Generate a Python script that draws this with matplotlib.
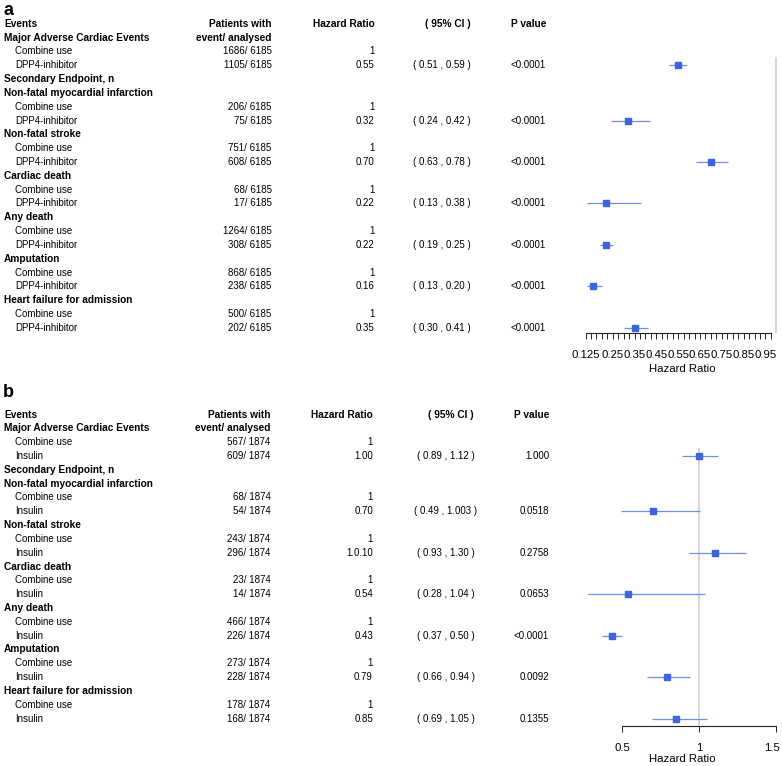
import matplotlib
matplotlib.use("Agg")
import matplotlib.pyplot as plt
from matplotlib.transforms import ScaledTranslation

plt.rcParams['font.family'] = ['Liberation Sans', 'DejaVu Sans']

# ---------------- data ----------------
groups = ["Major Adverse Cardiac Events", "Non-fatal myocardial infarction",
          "Non-fatal stroke", "Cardiac death", "Any death", "Amputation",
          "Heart failure for admission"]
ref_name = "Combine use"

# panel a : DPP4-inhibitor
a_drug = "DPP4-inhibitor"
a_total = 6185
a_ref_n = [1686, 206, 751, 68, 1264, 868, 500]
a_drug_n = [1105, 75, 608, 17, 308, 238, 202]
a_hr = [0.55, 0.32, 0.70, 0.22, 0.22, 0.16, 0.35]
a_lo = [0.51, 0.24, 0.63, 0.13, 0.19, 0.13, 0.30]
a_hi = [0.59, 0.42, 0.78, 0.38, 0.25, 0.20, 0.41]
a_hr_lab = ["0.55", "0.32", "0.70", "0.22", "0.22", "0.16", "0.35"]
a_p = ["<0.0001", "<0.0001", "<0.0001", "<0.0001", "<0.0001", "<0.0001", "<0.0001"]
a_ticks = [0.125, 0.25, 0.35, 0.45, 0.55, 0.65, 0.75, 0.85, 0.95]
a_tick_lab = ["0.125", "0.25", "0.35", "0.45", "0.55", "0.65", "0.75", "0.85", "0.95"]
a_minor = [0.125 + 0.025 * k for k in range(35)]

# panel b : Insulin
b_drug = "Insulin"
b_total = 1874
b_ref_n = [567, 68, 243, 23, 466, 273, 178]
b_drug_n = [609, 54, 296, 14, 226, 228, 168]
b_hr = [1.00, 0.70, 1.10, 0.54, 0.43, 0.79, 0.85]
b_lo = [0.89, 0.49, 0.93, 0.28, 0.37, 0.66, 0.69]
b_hi = [1.12, 1.003, 1.30, 1.04, 0.50, 0.94, 1.05]
b_hr_lab = ["1.00", "0.70", "1.0.10", "0.54", "0.43", "0.79", "0.85"]
b_p = ["1.000", "0.0518", "0.2758", "0.0653", "<0.0001", "0.0092", "0.1355"]
b_ticks = [0.5, 1, 1.5]
b_tick_lab = ["0.5", "1", "1.5"]

W, H = 782, 766
SQ = '#3d64db'
LN = '#6f8ee6'
FS = 7.0
FSB = 7.3
STEP = 13.82


def fmt(v):
    return "%.2f" % v if round(v, 2) == v else str(v)


fig = plt.figure(figsize=(W / 100, H / 100), dpi=100)
axt = fig.add_axes([0, 0, 1, 1])
axt.set_xlim(0, W)
axt.set_ylim(H, 0)
axt.axis('off')


def panel(letter, letter_y, y0, ax_top, ax_bot, drug, total, ref_n, drug_n,
          hr, lo, hi, hr_lab, pv, cols, xlim, bounds, ticks, tick_lab, minor, lab_off):
    x_n, x_hr, x_ci, x_cih, x_p = cols
    axt.text(3, letter_y, letter, fontsize=13, fontweight='bold', va='baseline')

    def ry(r):
        return y0 + STEP * r

    b = dict(fontsize=FSB, fontweight='bold', va='center')
    axt.text(4, ry(0), "Events", ha='left', **b)
    axt.text(x_n, ry(0), "Patients with", ha='right', **b)
    axt.text(x_hr, ry(0), "Hazard Ratio", ha='right', **b)
    axt.text(x_cih, ry(0), "( 95% CI )", ha='right', **b)
    axt.text(x_p, ry(0), "P value", ha='right', **b)
    axt.text(x_n, ry(1), "event/ analysed", ha='right', **b)

    rows = []
    r = 1
    for i, g in enumerate(groups):
        if i == 1:
            axt.text(4, ry(r), "Secondary Endpoint, n", ha='left', **b)
            r += 1
        axt.text(4, ry(r), g, ha='left', **b)
        n = dict(fontsize=FS, va='center')
        axt.text(15, ry(r + 1), ref_name, ha='left', **n)
        axt.text(x_n, ry(r + 1), "%d/ %d" % (ref_n[i], total), ha='right', **n)
        axt.text(x_hr, ry(r + 1), "1", ha='right', **n)
        axt.text(15, ry(r + 2), drug, ha='left', **n)
        axt.text(x_n, ry(r + 2), "%d/ %d" % (drug_n[i], total), ha='right', **n)
        axt.text(x_hr, ry(r + 2), hr_lab[i], ha='right', **n)
        axt.text(x_ci, ry(r + 2), "( %s , %s )" % (fmt(lo[i]), fmt(hi[i])), ha='center', **n)
        axt.text(x_p, ry(r + 2), pv[i], ha='right', **n)
        rows.append(r + 2)
        r += 3

    # forest part
    h_px = ax_bot - ax_top
    ax = fig.add_axes([560 / W, 1 - ax_bot / H, 222 / W, h_px / H])
    ax.set_ylim((ax_bot - y0) / STEP, (ax_top - y0) / STEP)
    ax.set_xlim(*xlim)
    ax.axvline(1, color='#cacad2', lw=1.1, zorder=0)
    ax.hlines(rows, lo, hi, color=LN, lw=0.9, zorder=2)
    ax.plot(hr, rows, 's', ms=5, color=SQ, zorder=3)
    for s in ['left', 'top', 'right']:
        ax.spines[s].set_visible(False)
    ax.spines['bottom'].set_bounds(*bounds)
    ax.spines['bottom'].set_color('#222222')
    ax.spines['bottom'].set_linewidth(0.8)
    ax.set_yticks([])
    ax.set_xticks(ticks)
    ax.set_xticklabels(tick_lab)
    if minor:
        ax.set_xticks(minor, minor=True)
    ax.tick_params(axis='x', which='both', direction='out', length=4.3, width=0.7,
                   color='#222222', labelsize=8.2, pad=7.8)
    ax.set_xlabel("Hazard Ratio", fontsize=8.2)
    ax.xaxis.label.set_va('center')
    ax.xaxis.set_label_coords(0.55, -lab_off / h_px)
    ax.patch.set_alpha(0)
    return ax


panel('a', 15, 23.8, 57, 333, a_drug, a_total, a_ref_n, a_drug_n,
      a_hr, a_lo, a_hi, a_hr_lab, a_p, (271.5, 374.5, 442, 471, 546),
      (0.008, 1.026), (0.125, 0.975), a_ticks, a_tick_lab, a_minor, 36)

axb = panel('b', 397, 414.5, 448, 726, b_drug, b_total, b_ref_n, b_drug_n,
            b_hr, b_lo, b_hi, b_hr_lab, b_p, (270.5, 373, 446, 474, 549),
            (0.0955, 1.537), (0.5, 1.5), b_ticks, b_tick_lab, None, 33)

# last tick label sits a bit left of its tick, as in the original
last = axb.get_xticklabels()[-1]
last.set_transform(last.get_transform() + ScaledTranslation(-4 / 100, 0, fig.dpi_scale_trans))

fig.savefig("out.png", dpi=100)
